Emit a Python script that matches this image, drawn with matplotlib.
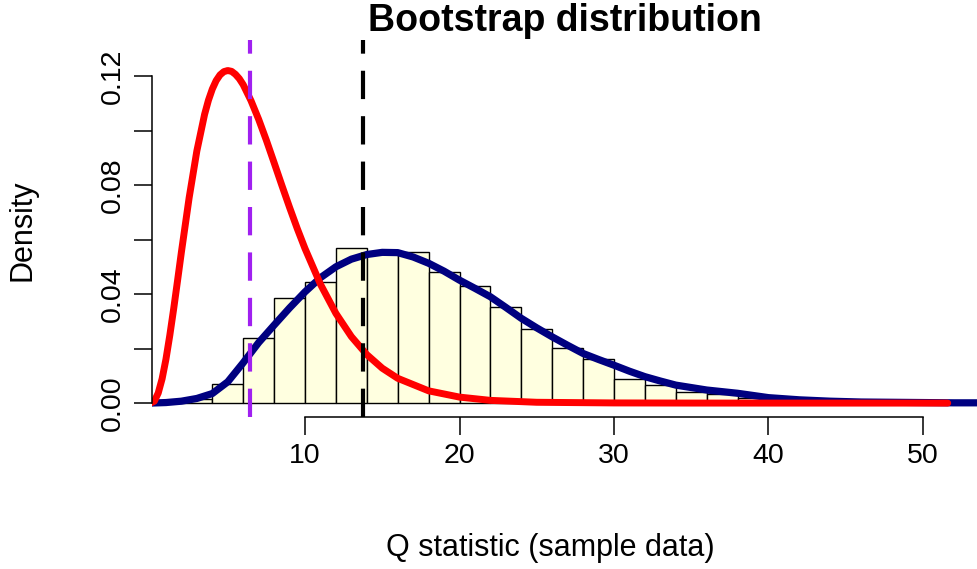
import matplotlib.pyplot as plt
import numpy as np

plt.rcParams['font.family'] = ['Liberation Sans', 'DejaVu Sans']

# histogram of bootstrap Q statistics (bin width 2)
bin_edges = np.arange(0, 54, 2)
bin_density = [0.0, 0.0015, 0.0069, 0.0237, 0.0386, 0.0445, 0.0568, 0.0555,
               0.0553, 0.0480, 0.0429, 0.0353, 0.0272, 0.0203, 0.0161, 0.0089,
               0.0066, 0.0042, 0.0033, 0.0020, 0.0012, 0.0008, 0.0004, 0.0002,
               0.0001, 0.0001]

# red curve (reference distribution)
red_x = [0, 0.25, 0.5, 0.75, 1, 1.25, 1.5, 1.75, 2, 2.5, 3, 3.5, 3.75, 4,
         4.25, 4.5, 4.75, 5, 5.25, 5.5, 5.75, 6, 6.5, 7, 7.5, 8, 8.5, 9, 9.5,
         10, 11, 12, 13, 14, 15, 16, 18, 20, 22, 25, 30, 35, 40, 45, 51.6]
red_y = [0, 0.0007, 0.0037, 0.0089, 0.0161, 0.0249, 0.0346, 0.0449, 0.0554,
         0.0753, 0.0925, 0.1059, 0.1111, 0.1152, 0.1183, 0.1204, 0.1216,
         0.1220, 0.1217, 0.1206, 0.1190, 0.1168, 0.1110, 0.1041, 0.0964,
         0.0882, 0.0799, 0.0718, 0.0640, 0.0567, 0.0436, 0.0329, 0.0244,
         0.0178, 0.0128, 0.0091, 0.0045, 0.0022, 0.0010, 0.0003, 0.00006,
         0.00001, 0, 0, 0]

# navy curve (bootstrap density)
blue_x = [0, 1, 2, 3, 4, 5, 6, 7, 8, 9, 10, 11, 12, 13, 14, 15, 16, 17, 18,
          19, 20, 21, 22, 23, 24, 25, 26, 27, 28, 29, 30, 31, 32, 33, 34, 35,
          36, 37, 38, 39, 40, 42, 44, 46, 48, 50, 52, 54]
blue_y = [0, 0.0002, 0.0007, 0.0017, 0.0035, 0.0078, 0.0148, 0.0222, 0.0286,
          0.0349, 0.0408, 0.0460, 0.0500, 0.0528, 0.0545, 0.0553, 0.0552,
          0.0536, 0.0513, 0.0484, 0.0451, 0.0421, 0.0390, 0.0351, 0.0311,
          0.0276, 0.0243, 0.0212, 0.0182, 0.0160, 0.0139, 0.0117, 0.0097,
          0.0081, 0.0066, 0.0057, 0.0048, 0.0042, 0.0036, 0.0028, 0.0020,
          0.0012, 0.0007, 0.0004, 0.0003, 0.0002, 0.0001, 0.0001]

q_obs = 13.77
q_purple = 6.44

fig = plt.figure(figsize=(9.78, 5.69), dpi=100)
ax = fig.add_axes([152/978, 152/569, 826/978, 377/569])

ax.bar(bin_edges[:-1], bin_density, width=2, align='edge',
       facecolor='#FFFFE0', edgecolor='black', linewidth=1.0)
ax.plot(blue_x, blue_y, color='#000080', linewidth=5.2,
        solid_capstyle='butt', solid_joinstyle='round')
ax.plot(red_x, red_y, color='red', linewidth=5,
        solid_capstyle='round', solid_joinstyle='round')

ymin, ymax = -0.0051, 0.1332
ax.plot([q_purple, q_purple], [ymin, ymax], color='#A020F0', linewidth=3,
        linestyle=(0, (6.8, 4.1)))
ax.plot([q_obs, q_obs], [ymin, ymax], color='black', linewidth=3,
        linestyle=(0, (6.8, 4.1)))

ax.set_xlim(0.097, 53.56)
ax.set_ylim(ymin, ymax)

for s in ['top', 'right']:
    ax.spines[s].set_visible(False)
ax.spines['bottom'].set_bounds(10, 50)
ax.spines['left'].set_bounds(0, 0.12)
ax.spines['bottom'].set_linewidth(1.1)
ax.spines['left'].set_linewidth(1.1)

ax.set_xticks([10, 20, 30, 40, 50])
ax.set_xticklabels(['10', '20', '30', '40', '50'], fontsize=20.5)
yt = [0, 0.02, 0.04, 0.06, 0.08, 0.10, 0.12]
ax.set_yticks(yt)
ax.set_yticklabels(['0.00', '', '0.04', '', '0.08', '', '0.12'],
                   fontsize=20.5, rotation=90, va='center')
ax.tick_params(axis='both', length=13, width=1.1)
ax.tick_params(axis='x', pad=6)
ax.tick_params(axis='y', pad=6)

fig.text(565/978, 1 - 21/569, 'Bootstrap distribution', ha='center',
         va='center', fontsize=27, fontweight='bold')
fig.text(550/978, 1 - 548/569, 'Q statistic (sample data)', ha='center',
         va='center', fontsize=22)
fig.text(22/978, 1 - 230/569, 'Density', ha='center', va='center',
         fontsize=22, rotation=90)

fig.savefig('out.png', dpi=100)
